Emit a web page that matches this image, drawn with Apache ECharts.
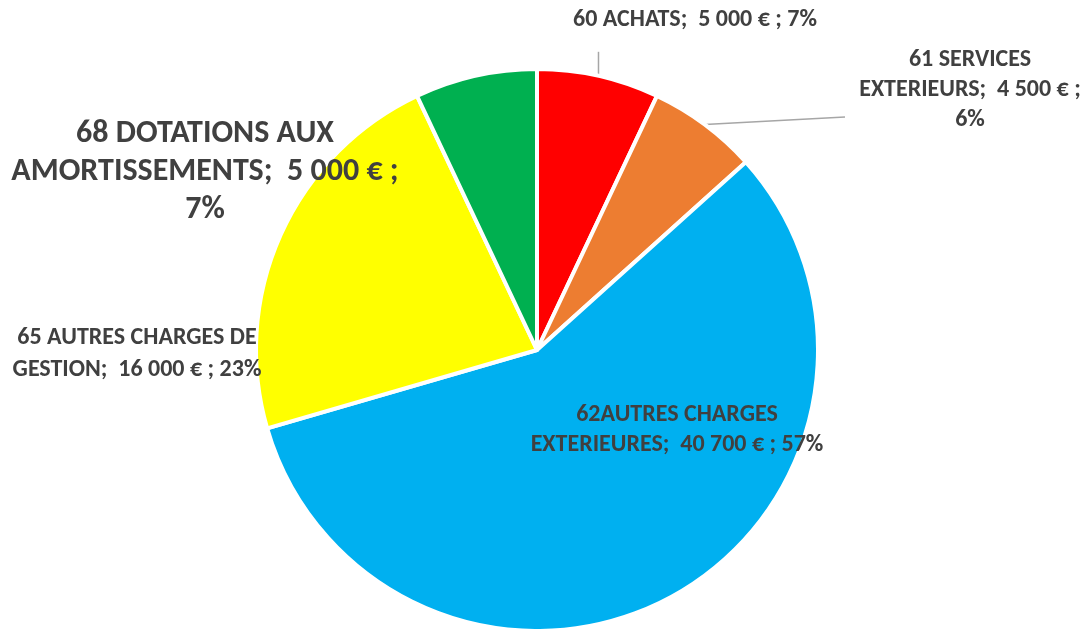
<!DOCTYPE html>
<html>
<head>
<meta charset="utf-8">
<script src="https://cdn.jsdelivr.net/npm/echarts@6/dist/echarts.min.js"></script>
<style>
  html, body { margin: 0; padding: 0; background: #fff; }
  #main { width: 1090px; height: 629px; }
</style>
</head>
<body>
<div id="main"></div>
<script>
// postes de charges (les \n sont les retours a la ligne du libelle)
var names = ['60 ACHATS', '61 SERVICES\nEXTERIEURS', '62AUTRES CHARGES\nEXTERIEURES', '65 AUTRES CHARGES DE\nGESTION', '68 DOTATIONS AUX\nAMORTISSEMENTS'];
var amounts = [5000, 4500, 40700, 16000, 5000];
var colors = ['#FF0000', '#ED7D31', '#00B0F0', '#FFFF00', '#00B050'];
// separateur avant le pourcentage
var pctSep = [' ', '\n', ' ', ' ', '\n'];
// position des etiquettes (centre)
var labelPos = [[695, 20], [970, 90], [677, 430], [137, 354], [205, 172]];
var labelFont = [[24, 30], [24, 30], [24, 30], [24, 32], [32, 38]];

function euro(v) {
  return String(v).replace(/\B(?=(\d{3})+(?!\d))/g, ' ');
}

var data = [];
for (var i = 0; i < names.length; i++) {
  data.push({
    name: names[i],
    value: amounts[i],
    itemStyle: { color: colors[i] },
    label: { fontSize: labelFont[i][0], lineHeight: labelFont[i][1] },
    labelLine: { show: i < 2 }
  });
}

var myChart = echarts.init(document.getElementById('main'));
var option = {
  animation: false,
  series: [{
    type: 'pie',
    center: [537, 350],
    radius: [0, 281],
    startAngle: 90,
    percentPrecision: 0,
    itemStyle: { borderColor: '#fff', borderWidth: 4 },
    label: {
      show: true,
      position: 'outside',
      color: '#404040',
      fontFamily: 'Carlito, Lato, sans-serif',
      fontWeight: 'bold',
      align: 'center',
      overflow: 'none',
      formatter: function (p) {
        return p.name + ';  ' + euro(p.value) + ' € ;' + pctSep[p.dataIndex] + p.percent + '%';
      }
    },
    labelLine: {
      show: true,
      length: 10,
      length2: 10,
      lineStyle: { color: '#A6A6A6', width: 1.5 }
    },
    labelLayout: function (params) {
      var i = params.dataIndex;
      var pos = labelPos[i];
      var out = { x: pos[0], y: pos[1], align: 'center', verticalAlign: 'middle' };
      var pts = params.labelLinePoints;
      if (pts && i < 2) {
        var p0 = pts[0];
        // trait vertical pour 60, trait presque horizontal vers la gauche de l'etiquette pour 61
        var end = i === 0 ? [p0[0], p0[1] - 24] : [pos[0] - 125, pos[1] + 27];
        out.labelLinePoints = [p0, end, end];
      }
      return out;
    },
    data: data
  }]
};
myChart.setOption(option);
</script>
</body>
</html>
